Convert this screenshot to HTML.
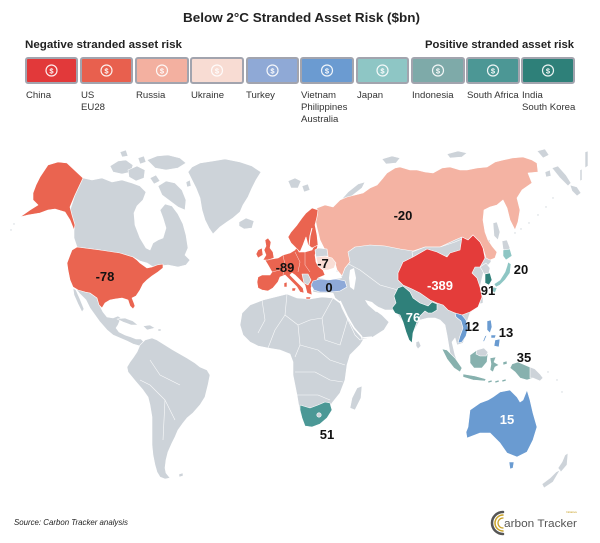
<!DOCTYPE html>
<html><head><meta charset="utf-8"><style>
html,body{margin:0;padding:0;background:#fff;}
svg{display:block;}
text{font-family:"Liberation Sans",sans-serif;}
</style></head><body>
<svg width="600" height="543" viewBox="0 0 600 543" xmlns="http://www.w3.org/2000/svg">
<rect width="600" height="543" fill="#fff"/>
<!-- Title -->
<text x="183" y="22" font-size="12.5" font-weight="bold" fill="#222" textLength="237" lengthAdjust="spacingAndGlyphs">Below 2°C Stranded Asset Risk ($bn)</text>
<text x="25" y="48" font-size="11" font-weight="bold" fill="#222" textLength="157" lengthAdjust="spacingAndGlyphs">Negative stranded asset risk</text>
<text x="425" y="48" font-size="11" font-weight="bold" fill="#222" textLength="149" lengthAdjust="spacingAndGlyphs">Positive stranded asset risk</text>

<!-- Legend boxes -->
<g stroke="#a2a4ae" stroke-width="2">
<rect x="26" y="58" width="51" height="25" rx="2" fill="#e2393a"/>
<rect x="81" y="58" width="51" height="25" rx="2" fill="#e8604e"/>
<rect x="136" y="58" width="52" height="25" rx="2" fill="#f3b0a0"/>
<rect x="191" y="58" width="52" height="25" rx="2" fill="#f8dcd3"/>
<rect x="247" y="58" width="51" height="25" rx="2" fill="#8fa9d6"/>
<rect x="301" y="58" width="52" height="25" rx="2" fill="#6b9bd1"/>
<rect x="357" y="58" width="51" height="25" rx="2" fill="#8ec6c5"/>
<rect x="412" y="58" width="52" height="25" rx="2" fill="#7eaaa9"/>
<rect x="467" y="58" width="52" height="25" rx="2" fill="#4c9795"/>
<rect x="522" y="58" width="52" height="25" rx="2" fill="#2e8079"/>
</g>
<g fill="none" stroke="#fff" stroke-width="1.2" opacity="0.9">
<circle cx="51.5" cy="70.5" r="5.5"/><circle cx="106.5" cy="70.5" r="5.5"/><circle cx="162" cy="70.5" r="5.5"/><circle cx="217" cy="70.5" r="5.5"/><circle cx="272.5" cy="70.5" r="5.5"/><circle cx="327" cy="70.5" r="5.5"/><circle cx="382.5" cy="70.5" r="5.5"/><circle cx="438" cy="70.5" r="5.5"/><circle cx="493" cy="70.5" r="5.5"/><circle cx="548" cy="70.5" r="5.5"/>
</g>
<g fill="#fff" font-size="7.5" font-weight="bold" text-anchor="middle" opacity="0.95">
<text x="51.5" y="73.3">$</text><text x="106.5" y="73.3">$</text><text x="162" y="73.3">$</text><text x="217" y="73.3">$</text><text x="272.5" y="73.3">$</text><text x="327" y="73.3">$</text><text x="382.5" y="73.3">$</text><text x="438" y="73.3">$</text><text x="493" y="73.3">$</text><text x="548" y="73.3">$</text>
</g>
<g font-size="9.6" fill="#333">
<text x="26" y="98">China</text>
<text x="81" y="98">US</text><text x="81" y="110">EU28</text>
<text x="136" y="98">Russia</text>
<text x="191" y="98">Ukraine</text>
<text x="246" y="98">Turkey</text>
<text x="301" y="98">Vietnam</text><text x="301" y="110">Philippines</text><text x="301" y="122">Australia</text>
<text x="357" y="98">Japan</text>
<text x="412" y="98">Indonesia</text>
<text x="467" y="98">South Africa</text>
<text x="522" y="98">India</text><text x="522" y="110">South Korea</text>
</g>

<!-- MAP -->
<g stroke="#fff" stroke-width="0.6" stroke-linejoin="round">
<g fill="#cdd3d9">
<polygon points="110,166 118,161 126,160 133,165 131,172 122,174 113,172"/>
<polygon points="128,170 137,166 145,170 144,178 136,181 129,177"/>
<polygon points="147,160 157,156 168,155 180,158 186,163 178,168 166,170 155,168"/>
<polygon points="138,158 144,156 146,162 140,164"/>
<polygon points="120,152 126,150 128,156 122,157"/>
<polygon points="158,186 166,181 175,183 182,190 186,200 185,210 178,207 170,201 162,195"/>
<polygon points="150,178 156,175 160,181 154,184"/>
<polygon points="186,182 190,180 191,186 187,187"/>
<polygon points="188,172 192,167 200,163 213,161 225,159 240,162 252,166 261,172 256,180 252,188 248,197 243,205 240,212 233,218 227,222 220,227 213,234 209,228 205,220 202,210 200,198 196,188 192,180"/>
<polygon points="239,222 246,218 254,221 252,228 244,229 239,226"/>
<polygon points="288,181 295,178 301,181 298,188 291,188"/>
<polygon points="302,186 308,184 310,190 304,192"/>
<polygon points="340,201 348,192 358,184 365,182 362,188 353,195 345,204"/>
<polygon points="382,159 392,156 400,158 396,163 386,164"/>
<polygon points="447,154 458,151 467,153 462,157 450,158"/>
<polygon points="537,151 545,149 549,155 543,158"/>
<polygon points="552,168 558,166 566,175 571,183 568,186 560,178"/>
<polygon points="570,185 577,187 581,193 577,196 572,191"/>
<polygon points="585,152 588,151 588,166 585,168"/>
<polygon points="580,170 582,169 582,180 580,181"/>
<polygon points="545,172 550,170 551,176 546,177"/>
<!-- Canada -->
<polygon points="83,178 92,180 102,178 112,182 122,180 132,183 140,186 146,192 143,200 137,206 134,213 135,225 140,238 146,248 150,250 153,243 158,240 163,238 166,228 163,218 160,210 165,204 172,206 178,214 183,224 186,235 188,248 185,255 190,260 186,265 178,267 168,265 160,266 153,267 147,263 140,261 133,257 100,250 77,247 74,238 74,228 70,210 75,195"/>
<polygon points="76,289 85,292 90,293 97,298 100,306 103,312 107,317 113,318 118,316 121,318 118,325 116,328 119,332 125,335 131,337 136,339 141,339 144,342 140,346 133,344 127,341 120,338 113,335 107,330 100,322 95,315 90,308 86,300 80,294"/>
<polygon points="73,288 76,290 80,299 84,309 82,312 78,304 74,295"/>
<polygon points="117,319 125,318 133,321 138,325 131,325 123,322"/>
<polygon points="143,326 150,325 155,328 147,330"/>
<polygon points="158,329 161,329 161,331 158,331"/>
<polygon points="140,345 145,340 152,338 157,340 165,345 173,350 180,354 187,358 195,363 200,367 207,370 210,375 208,385 205,397 200,405 193,413 187,418 183,423 178,430 175,437 172,443 168,452 166,460 165,468 166,473 170,478 165,479 160,477 157,472 155,465 153,455 152,445 152,430 152,417 150,405 148,397 143,390 137,383 132,377 128,372 127,367 130,362 133,358 137,352"/>
<polygon points="179,474 183,473 183,476 179,477"/>
<polygon points="242,313 250,305 263,300 275,297 287,294 297,298 310,299 322,297 333,298 340,303 348,318 355,330 365,337 360,345 350,355 347,365 345,380 340,393 332,403 328,412 323,420 313,427 305,425 300,413 297,395 293,375 293,362 290,354 280,350 268,348 258,346 250,342 243,335 240,325"/>
<polygon points="357,388 362,386 361,398 355,410 350,408 352,398"/>
<polygon points="313,280 320,275 335,272 342,265 345,248 380,243 460,235 490,240 491,262 484,270 480,287 482,297 478,307 470,313 467,322 467,333 463,343 457,345 455,338 452,342 455,355 460,368 456,367 450,353 447,335 445,325 440,320 435,318 428,318 420,320 413,333 412,343 408,337 403,322 398,315 392,310 385,310 378,307 372,303 375,310 382,315 389,322 384,330 373,337 360,340 355,335 348,320 342,308 340,302 335,298 333,293 320,293 313,292"/>
<polygon points="416,342 419,341 421,346 418,349 416,346"/>
<polygon points="493,223 497,222 500,232 498,240 494,236"/>
<polygon points="502,241 507,240 510,248 507,253 503,249"/>
<polygon points="480,298 483,297 483,303 480,304"/>
<polygon points="565,455 568,453 567,465 561,472 558,468 562,462"/>
<polygon points="556,472 560,470 553,482 544,488 542,484 550,478"/>
<circle cx="515" cy="233" r="1"/><circle cx="521" cy="229" r="1"/><circle cx="529" cy="223" r="1"/><circle cx="538" cy="215" r="1"/><circle cx="546" cy="207" r="1"/><circle cx="553" cy="198" r="1"/>
<circle cx="14" cy="224" r="1"/><circle cx="11" cy="230" r="1"/><circle cx="557" cy="380" r="1"/><circle cx="548" cy="372" r="1"/><circle cx="562" cy="392" r="1"/>
</g>

<g fill="#fff" stroke="none">
<polygon points="318,272 330,270 340,272 342,278 330,280 318,278"/>
<polygon points="350,270 354,268 356,278 354,290 350,287 349,278"/>
<polygon points="365,300 372,302 381,310 376,312 368,305"/>
</g>
<polyline points="340,301 347,316 354,328 362,337" fill="none" stroke="#fff" stroke-width="1.6"/>
<polyline points="361,338 372,337" fill="none" stroke="#fff" stroke-width="1.2"/>

<g fill="none" stroke="#fff" stroke-width="0.6" opacity="0.9">
<polyline points="262,300 265,320 258,333"/>
<polyline points="287,294 285,315 298,325 310,320 322,318 333,298"/>
<polyline points="285,315 275,330 268,348"/>
<polyline points="298,325 300,345 295,357"/>
<polyline points="322,318 325,340 340,345 348,318"/>
<polyline points="300,345 318,350 330,360 345,365"/>
<polyline points="295,372 315,372 330,380 343,382"/>
<polyline points="297,395 318,395 330,400"/>
<polyline points="345,248 345,262 360,270 380,285 398,290"/>
<polyline points="413,252 425,248 440,247 455,243 462,240"/>
<polyline points="140,380 150,385 165,400 175,420"/>
<polyline points="150,360 160,375 180,385"/>
<polyline points="165,400 163,440"/>
</g>

<polygon fill="#ea6450" points="40,177 48,165 58,162 67,163 83,178 75,195 70,207 72,215 75,225 74,230 70,220 65,212 55,209 48,210 40,213 28,215 20,217 30,210 38,205 33,200 33,193 36,185"/>
<polygon fill="#ea6450" points="77,247 100,250 120,253 133,257 137,260 140,263 147,268 152,267 157,265 163,264 163,268 158,272 152,276 147,280 143,284 140,290 136,296 132,298 134,303 135,306 133,309 130,306 128,300 122,298 115,299 110,300 105,303 102,308 99,305 97,298 90,293 85,292 78,290 73,287 70,280 68,270 67,263 70,255 72,250"/>

<polygon fill="#f4b3a3" points="317,208 325,205 333,207 340,200 347,197 355,195 363,193 370,188 377,185 383,178 387,173 395,168 400,167 410,170 417,170 425,172 433,173 442,168 450,167 460,170 467,170 477,168 487,167 495,162 503,160 512,158 523,157 532,160 537,163 538,172 528,173 532,183 522,190 517,198 520,210 518,222 515,230 510,220 507,208 503,200 497,205 490,207 484,210 483,220 485,232 488,240 492,246 497,252 495,258 490,260 486,258 483,248 473,235 468,240 462,237 455,240 440,247 425,247 413,251 400,249 385,246 370,245 355,247 348,252 350,262 345,268 342,276 337,270 335,263 328,257 325,250 320,240 317,228 315,218"/>
<polygon fill="#cdd3d9" points="412,252 425,247 440,247 455,242 462,239 462,250 450,255 440,258 425,260 413,258"/>
<polygon fill="#e43c3a" points="398,273 403,262 413,257 420,253 427,249 437,252 447,257 450,253 460,250 462,237 468,240 473,235 480,242 483,248 485,258 480,267 475,267 472,273 477,278 480,287 482,297 478,307 470,312 462,315 455,313 448,310 443,305 437,303 430,300 420,293 412,289 403,285 398,280"/>
<polygon fill="#cdd3d9" points="480,267 486,263 490,268 489,273 484,274 482,270"/>
<polygon fill="#2f807a" points="485,274 490,273 492,280 489,285 485,283"/>
<g fill="#8ec6c4">
<polygon points="503,250 510,249 512,256 506,260 503,256"/>
<polygon points="508,262 511,264 510,273 505,280 500,285 496,287 494,284 500,280 505,272 507,266"/>
<polygon points="493,287 497,288 495,293 492,291"/>
</g>
<polygon fill="#2f807a" points="398,288 403,286 410,292 413,298 420,303 428,306 432,302 437,304 437,310 432,313 428,313 425,311 420,316 417,322 413,333 412,343 409,340 406,332 403,322 400,315 395,313 392,308 396,303 394,296"/>
<polygon fill="#6a9bd1" points="455,313 462,315 466,320 468,328 466,336 462,342 458,343 460,336 463,328 461,321 456,317"/>
<g fill="#6a9bd1">
<polygon points="487,321 491,320 492,327 490,333 487,330"/>
<polygon points="495,340 500,339 499,347 494,346"/>
<polygon points="491,335 496,335 495,338 491,338"/>
<polygon points="485,336 487,335 484,342 483,341"/>
</g>
<g fill="#87b1ae">
<polygon points="442,349 447,350 455,358 462,368 460,372 454,368 447,359"/>
<polygon points="463,374 475,376 486,379 485,381 473,380 463,377"/>
<polygon points="470,355 477,350 484,348 488,352 487,362 482,368 474,368 470,363"/>
<polygon points="490,358 496,357 494,362 499,365 495,367 493,372 490,370 491,364"/>
<polygon points="512,364 518,362 525,365 532,368 538,372 543,378 540,381 533,378 527,380 520,378 515,372 510,368"/>
<polygon points="488,381 492,380 492,382 488,383"/><polygon points="495,381 499,380 499,382 495,383"/><polygon points="502,380 506,379 506,381 502,382"/>
<polygon points="503,362 507,361 507,364 503,365"/>
</g>
<polygon fill="#cdd3d9" points="477,350 484,348 488,352 486,356 480,356 476,354"/>
<polygon fill="#cdd3d9" points="530,367 535,369 540,374 543,378 540,381 533,378 530,378"/>
<polygon fill="#6a9bd1" points="466,432 468,427 470,410 480,403 488,400 493,397 500,392 510,390 517,397 520,402 523,400 527,390 530,400 533,413 537,427 533,440 527,452 517,457 507,453 500,443 490,433 480,433 467,438"/>
<polygon fill="#6a9bd1" points="509,462 514,462 513,468 510,469"/>
<polygon fill="#4b9896" points="300,405 310,408 318,405 325,402 330,403 332,410 327,418 320,424 312,427 305,426 302,418 300,410"/>
<circle cx="319" cy="415" r="2.2" fill="#cdd3d9"/>

<g fill="#ea6450">
<polygon points="258,277 262,275 270,275 272,272 268,265 265,260 272,259 278,258 283,255 290,253 295,250 297,246 299,252 305,252 312,250 314,246 313,242 318,243 317,250 315,255 316,262 318,266 323,270 325,275 318,278 316,282 313,283 311,288 312,295 307,293 305,285 300,280 295,275 292,273 290,275 297,282 303,288 304,293 300,292 297,287 290,280 285,275 280,277 278,282 273,288 268,291 262,290 258,288 257,282"/>
<polygon points="300,252 296,248 291,243 288,237 291,232 297,225 302,218 306,213 312,208 318,210 317,217 315,225 317,235 318,245 312,248 308,245 306,237 303,245"/>
<polygon points="265,240 268,238 271,242 270,248 273,252 274,258 268,260 263,260 266,255 264,250 266,246"/>
<polygon points="258,250 262,248 263,255 258,258 256,254"/>
<polygon points="284,283 287,282 287,287 284,287"/>
<polygon points="292,288 296,288 295,291 292,291"/>
<polygon points="306,297 311,297 310,299 306,299"/>
</g>
<polyline points="309,246 310,236 312,228" fill="none" stroke="#fff" stroke-width="1"/>
<g fill="none" stroke="#fff" stroke-width="0.5" opacity="0.8">
<polyline points="283,255 285,265 283,275"/><polyline points="295,252 300,262 298,272"/><polyline points="305,252 305,265 310,272"/><polyline points="272,272 280,270 285,265"/>
</g>
<polygon fill="#cdd3d9" points="302,274 308,274 311,280 308,285 304,283"/>
<polygon fill="#cdd3d9" points="315,250 318,248 327,249 328,256 316,257"/>
<polygon fill="#f9ddd5" points="316,257 325,256 332,258 336,263 334,268 328,270 323,270 318,266"/>
<polygon fill="#8ea9d8" points="313,281 320,279 328,280 336,279 345,281 347,287 340,291 330,292 320,292 314,290 311,285"/>
</g>

<g font-size="13" font-weight="bold" text-anchor="middle" fill="#111">
<text x="105" y="281">-78</text>
<text x="285" y="272">-89</text>
<text x="323" y="268">-7</text>
<text x="403" y="220">-20</text>
<text x="329" y="292">0</text>
<text x="440" y="290" fill="#fff">-389</text>
<text x="521" y="274">20</text>
<text x="488" y="295">91</text>
<text x="413" y="322" fill="#fff">76</text>
<text x="472" y="331">12</text>
<text x="506" y="337">13</text>
<text x="524" y="362">35</text>
<text x="507" y="424" fill="#fff">15</text>
<text x="327" y="439">51</text>
</g>

<text x="14" y="525" font-size="8.5" font-style="italic" fill="#222" textLength="114" lengthAdjust="spacingAndGlyphs">Source: Carbon Tracker analysis</text>
<g fill="none" stroke-linecap="round">
<path d="M503,512 A11,11 0 1,0 503,534" stroke="#555" stroke-width="2.5"/>
<path d="M503,515 A8,8 0 1,0 503,531" stroke="#c9a227" stroke-width="1.5"/>
<path d="M503,518 A5,5 0 1,0 503,528" stroke="#c9a227" stroke-width="1.3"/>
</g>
<text x="504" y="527" font-size="11" fill="#555" textLength="73" lengthAdjust="spacingAndGlyphs">arbon Tracker</text>
<text x="566" y="513" font-size="3" fill="#c9a227">Initiative</text>
</svg>
</body></html>
